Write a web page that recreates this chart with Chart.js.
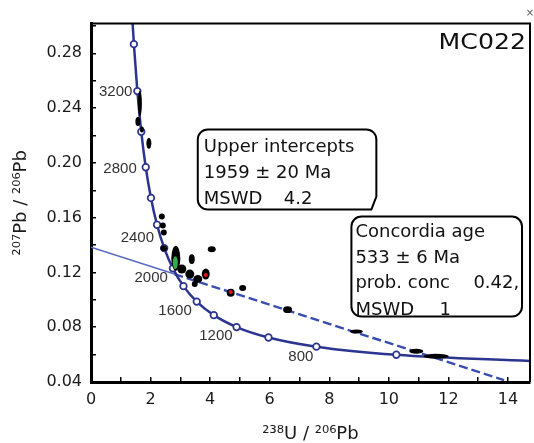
<!DOCTYPE html>
<html>
<head>
<meta charset="utf-8">
<script src="https://cdn.jsdelivr.net/npm/chart.js@4.4.1/dist/chart.umd.min.js"></script>
<style>
  html, body { margin: 0; padding: 0; background: #fff; }
  #wrap { width: 534px; height: 443px; }
</style>
</head>
<body>
<div id="wrap"><canvas id="tw" width="534" height="443"></canvas></div>
<script>
// Concordia (Tera-Wasserburg) : ages in Ma, 238U/206Pb and 207Pb/206Pb
const concordiaAge = [3500, 3400, 3200, 3000, 2800, 2600, 2400, 2200, 2000, 1800, 1600, 1400, 1200, 1000, 800, 600, 420];
const concordiaX = [1.387, 1.440, 1.556, 1.688, 1.838, 2.013, 2.217, 2.459, 2.749, 3.105, 3.550, 4.123, 4.888, 5.959, 7.568, 10.252, 14.85];
const concordiaY = [0.3058, 0.2867, 0.2524, 0.2227, 0.1968, 0.1744, 0.1548, 0.1378, 0.1230, 0.1100, 0.0987, 0.0888, 0.0801, 0.0725, 0.0658, 0.0599, 0.0552];
const ageLabels = [3200, 2800, 2400, 2000, 1600, 1200, 800];

// discordia (upper intercept 1959 Ma, lower 533 Ma)
const discordiaSolidX = [0, 2.8];
const discordiaSolidY = [0.1384, 0.1188];
const discordiaDashX = [2.8, 13.87];
const discordiaDashY = [0.1188, 0.0414];

// analyses (centre + half widths of the error ellipses)
const analysisX = [1.642, 1.575, 1.709, 1.943, 2.379, 2.412, 2.446, 2.446, 2.848, 3.384, 4.054, 3.049, 3.317, 3.585, 3.484, 3.853, 4.690, 5.092, 6.600, 8.911, 10.921, 11.591];
const analysisY = [0.2433, 0.2302, 0.2244, 0.2143, 0.1608, 0.1543, 0.1492, 0.1376, 0.1304, 0.1297, 0.1369, 0.1225, 0.1188, 0.1152, 0.1116, 0.1188, 0.1051, 0.1087, 0.0928, 0.0769, 0.0624, 0.0588];
const analysisErrX = [0.067, 0.084, 0.067, 0.084, 0.10, 0.10, 0.10, 0.117, 0.151, 0.10, 0.134, 0.151, 0.151, 0.151, 0.10, 0.134, 0.134, 0.117, 0.151, 0.218, 0.235, 0.419];
const analysisErrY = [0.0094, 0.0033, 0.0022, 0.0040, 0.0022, 0.0022, 0.0022, 0.0022, 0.0090, 0.0036, 0.0022, 0.0033, 0.0033, 0.0029, 0.0022, 0.0040, 0.0029, 0.0022, 0.0025, 0.0015, 0.0018, 0.0018];

// concordant analysis (green) and highlighted spots (red)
const greenX = [2.831];
const greenY = [0.1272];
const greenErrX = [0.084];
const greenErrY = [0.0047];
const redX = [3.853, 4.690];
const redY = [0.1181, 0.1058];

const pts = (xs, ys) => xs.map((x, i) => ({ x: x, y: ys[i] }));

const BLUE = '#2b3590';
const tickFont = { family: 'DejaVu Sans', size: 16 };
const titleFont = { family: 'DejaVu Sans', size: 18, lineHeight: 1 };

// ellipses d'erreur, dessinees avec les echelles du graphique
const ellipsePlugin = {
  id: 'ellipses',
  afterDatasetDraw(chart, args) {
    const ds = chart.data.datasets[args.index];
    if (!ds.errX) return;
    const { ctx, scales: { x, y } } = chart;
    ctx.save();
    ctx.fillStyle = ds.ellipseColor;
    args.meta.data.forEach((el, i) => {
      const p = ds.data[i];
      const rx = Math.abs(x.getPixelForValue(p.x + ds.errX[i]) - el.x);
      const ry = Math.abs(y.getPixelForValue(p.y + ds.errY[i]) - el.y);
      ctx.beginPath();
      ctx.ellipse(el.x, el.y, rx, ry, 0, 0, Math.PI * 2);
      ctx.fill();
    });
    ctx.restore();
  }
};

// etiquettes d'age sur la concordia
const ageLabelPlugin = {
  id: 'ageLabels',
  afterDatasetsDraw(chart, args, opts) {
    const meta = chart.getDatasetMeta(3);
    const ctx = chart.ctx;
    ctx.save();
    ctx.font = '15px "Liberation Sans"';
    ctx.fillStyle = '#333';
    ctx.textAlign = 'right';
    ctx.textBaseline = 'middle';
    ageLabels.forEach((age, k) => {
      const el = meta.data[concordiaAge.indexOf(age)];
      const off = opts.offsets[k];
      ctx.fillText(String(age), el.x + off[0], el.y + off[1]);
    });
    ctx.restore();
  }
};

function boxPath(ctx, x0, y0, x1, y1, r, cut) {
  ctx.beginPath();
  ctx.moveTo(x0 + r, y0);
  ctx.lineTo(x1 - r, y0);
  ctx.arcTo(x1, y0, x1, y0 + r, r);
  if (cut) {
    ctx.lineTo(x1, y1 - 13);
    ctx.lineTo(x1 - 5, y1);
  } else {
    ctx.lineTo(x1, y1 - r);
    ctx.arcTo(x1, y1, x1 - r, y1, r);
  }
  ctx.lineTo(x0 + r, y1);
  ctx.arcTo(x0, y1, x0, y1 - r, r);
  ctx.lineTo(x0, y0 + r);
  ctx.arcTo(x0, y0, x0 + r, y0, r);
  ctx.closePath();
}

// cadre, encadres de texte et nom de l'echantillon
const notesPlugin = {
  id: 'notes',
  afterDraw(chart, args, opts) {
    const { ctx, chartArea: a, scales: { x, y } } = chart;
    ctx.save();
    ctx.strokeStyle = '#000';
    ctx.lineWidth = 2;
    ctx.beginPath();
    ctx.moveTo(a.left, a.top);
    ctx.lineTo(a.right, a.top);
    ctx.lineTo(a.right, a.bottom);
    ctx.stroke();

    opts.boxes.forEach(b => {
      const x0 = x.getPixelForValue(b.from[0]), y0 = y.getPixelForValue(b.from[1]);
      const x1 = x.getPixelForValue(b.to[0]), y1 = y.getPixelForValue(b.to[1]);
      boxPath(ctx, x0, y0, x1, y1, 10, b.cut);
      ctx.fillStyle = '#fff';
      ctx.fill();
      ctx.lineWidth = 2;
      ctx.stroke();
      ctx.fillStyle = '#111';
      ctx.font = '18px "DejaVu Sans"';
      ctx.textAlign = 'left';
      ctx.textBaseline = 'alphabetic';
      b.lines.forEach(l => ctx.fillText(l[0], x0 + l[1], y0 + l[2]));
    });

    ctx.font = '21px "DejaVu Sans"';
    ctx.fillStyle = '#111';
    ctx.textAlign = 'right';
    ctx.translate(a.right - 4, a.top + 25);
    ctx.scale(1.2, 1);
    ctx.fillText('MC022', 0, 0);
    ctx.setTransform(1, 0, 0, 1, 0, 0);
    ctx.font = '10px "DejaVu Sans"';
    ctx.fillStyle = '#555';
    ctx.textAlign = 'center';
    ctx.fillText('×', a.right, a.top - 8);
    ctx.restore();
  }
};

const onlySteps = step => s => {
  s.ticks = s.ticks.filter(t => Math.abs(t.value / step - Math.round(t.value / step)) < 1e-6);
};

new Chart(document.getElementById('tw'), {
  type: 'scatter',
  data: {
    datasets: [
      { label: 'red', data: pts(redX, redY), pointRadius: 2, pointBackgroundColor: '#e3121b', pointBorderWidth: 0 },
      { label: 'concordant', data: pts(greenX, greenY), pointRadius: 0, errX: greenErrX, errY: greenErrY, ellipseColor: '#2fae4a' },
      { label: 'analyses', data: pts(analysisX, analysisY), pointRadius: 0, errX: analysisErrX, errY: analysisErrY, ellipseColor: '#000' },
      {
        label: 'concordia', type: 'line', data: pts(concordiaX, concordiaY),
        borderColor: BLUE, borderWidth: 2.5, cubicInterpolationMode: 'monotone',
        pointRadius: c => (c.dataIndex === 0 || c.dataIndex === concordiaAge.length - 1) ? 0 : 3.3,
        pointBackgroundColor: '#fff', pointBorderColor: BLUE, pointBorderWidth: 1.7
      },
      { label: 'discordia', type: 'line', data: pts(discordiaSolidX, discordiaSolidY), borderColor: '#5869c6', borderWidth: 1.6, pointRadius: 0 },
      { label: 'discordia ext', type: 'line', data: pts(discordiaDashX, discordiaDashY), borderColor: '#3a4cae', borderWidth: 2.4, borderDash: [9, 4], pointRadius: 0 }
    ]
  },
  options: {
    responsive: false,
    animation: false,
    layout: { padding: { top: 20, right: 3, left: 0, bottom: 0 } },
    plugins: {
      legend: { display: false },
      tooltip: { enabled: false },
      ageLabels: { offsets: [[-5, 1], [-9, 2], [-3, 13], [-5, 10], [-5, 9], [-4, 9], [-3, 10]] },
      notes: {
        boxes: [
          { from: [3.585, 0.2244], to: [9.581, 0.1659], cut: true,
            lines: [['Upper intercepts', 6, 23], ['1959 ± 20 Ma', 6, 49], ['MSWD', 6, 75], ['4.2', 86, 75]] },
          { from: [8.744, 0.1608], to: [14.472, 0.0878], cut: false,
            lines: [['Concordia age', 4, 20], ['533 ± 6 Ma', 4, 46.5], ['prob. conc', 4, 71.5], ['0.42,', 122, 71.5], ['MSWD', 4, 98.5], ['1', 88, 98.5]] }
        ]
      }
    },
    scales: {
      x: {
        type: 'linear', min: 0, max: 14.74,
        afterBuildTicks: onlySteps(1),
        afterFit: s => { s.height = 61; },
        ticks: { stepSize: 1, includeBounds: false, autoSkip: false, maxRotation: 0, padding: 13, font: tickFont, color: '#1a1a1a',
                 callback: v => (Math.round(v) % 2 === 0 ? String(Math.round(v)) : '') },
        grid: { drawOnChartArea: false, tickLength: -5, color: '#000', lineWidth: 1.5 },
        border: { color: '#000', width: 3 },
        title: { display: true, text: '²³⁸U / ²⁰⁶Pb', font: titleFont, color: '#1a1a1a', padding: { top: 0, bottom: 0 } }
      },
      y: {
        type: 'linear', min: 0.04, max: 0.3017,
        afterBuildTicks: onlySteps(0.02),
        afterFit: s => { s.width = 91; },
        ticks: { stepSize: 0.02, includeBounds: false, autoSkip: false, padding: 14, font: tickFont, color: '#1a1a1a',
                 callback: v => (Math.round(v * 100) % 4 === 0 ? v.toFixed(2) : '') },
        grid: { drawOnChartArea: false, tickLength: -5, color: '#000', lineWidth: 1.5 },
        border: { color: '#000', width: 3 },
        title: { display: true, text: '²⁰⁷Pb / ²⁰⁶Pb', font: titleFont, color: '#1a1a1a', padding: { top: 12, bottom: 0 } }
      }
    }
  },
  plugins: [ellipsePlugin, ageLabelPlugin, notesPlugin]
});
</script>
</body>
</html>
